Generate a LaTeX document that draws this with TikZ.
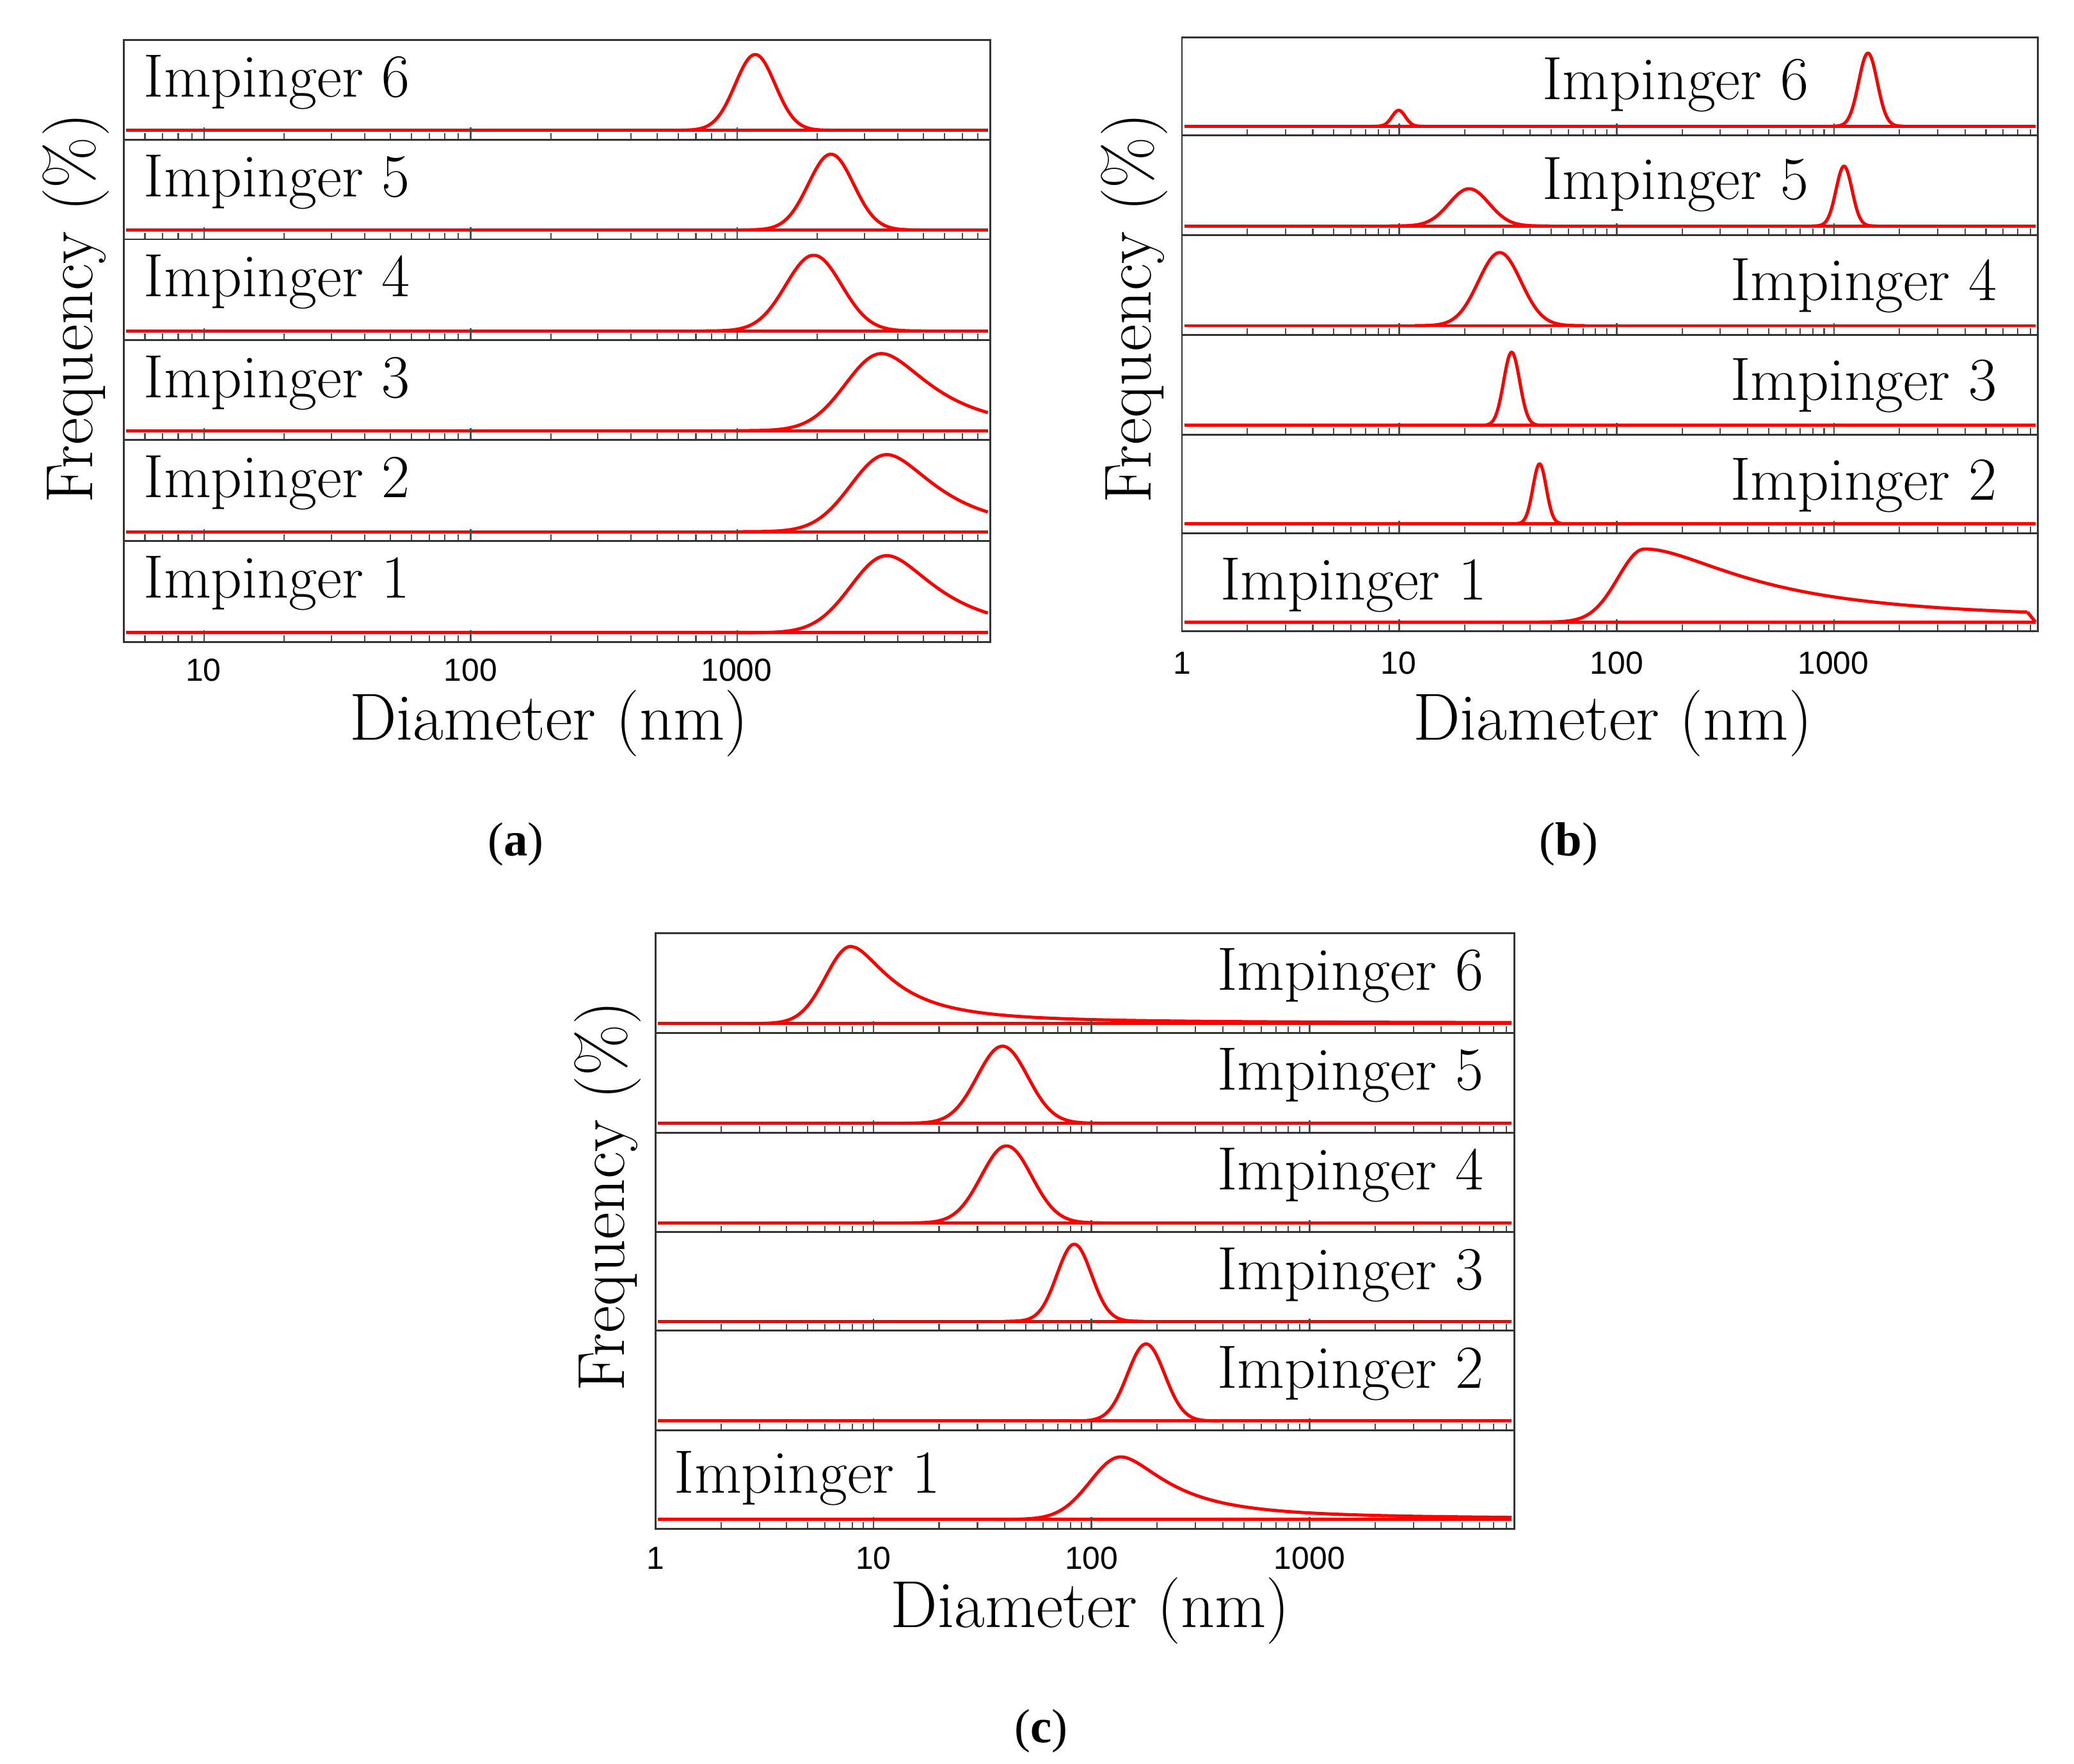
\documentclass[tikz,border=0pt]{standalone}
\usepackage{fontspec}
\newfontfamily\tickfont{Liberation Sans}
\newfontfamily\labfont{Liberation Serif}
\begin{document}
\begin{tikzpicture}[x=1pt,y=-1pt,
  frame/.style={draw=black!80,line width=1.4pt},
  curve/.style={draw=red,line width=2.4pt,line join=round},
  imp/.style={font=\fontsize{46}{52}\selectfont,inner sep=0pt},
  tick/.style={font=\tickfont\fontsize{24}{28}\selectfont,inner sep=0pt},
  axt/.style={font=\fontsize{50}{56}\selectfont,inner sep=0pt},
  plab/.style={font=\labfont\fontsize{36}{42}\selectfont,inner sep=0pt}]
\path[use as bounding box,fill=white] (0,0) rectangle (1560,1327);
\newcommand\mytks[5]{%
 \foreach \d in {0,...,4}{\foreach \m in {1,...,9}{%
  \pgfmathsetmacro\xx{#4+#5*(\d+log10(\m))}%
  \pgfmathparse{and(\xx>#1+2,\xx<#2-2)}%
  \ifnum\pgfmathresult=1
   \ifnum\m=1 \draw[black!70,line width=1.2pt] (\xx,#3) -- ++(0,-9);
   \else \draw[black!70,line width=1pt] (\xx,#3) -- ++(0,-5);\fi
  \fi}}}
\newcommand\gss[4]{\draw[curve] plot[domain={#3-4*#4}:{#3+4*#4},samples=80,smooth] (\x,{#1-#2*exp(-((\x-#3)/#4)^2/2)});}
\newcommand\skw[7]{\draw[curve] plot[domain={#3-4*#4}:#3,samples=60,smooth] (\x,{#1-#2*exp(-((\x-#3)/#4)^2/2)}) -- plot[domain=#3:#7,samples=120,smooth] (\x,{#1-#2*exp(-((\x-#3)/(#5+#6*(\x-#3)))^2/2)});}

%%%%% panel a
\foreach \t/\b in {30/105,105/180,180/256,256/331,331/407,407/483}{
  \draw[curve] (95,\b-7) -- (743,\b-7);
  \mytks{93}{745}{\b}{-47}{200.5}
}
\gss{98}{57}{568}{15}
\gss{173}{57}{625}{17}
\gss{249}{57}{612}{21}
\draw[curve] plot[domain=555:743,samples=100,smooth] (\x,{324-58*exp(-((\x-663)/(27+0.25*max(\x-663,0)))^2/2)});
\draw[curve] plot[domain=555:743,samples=100,smooth] (\x,{400-58*exp(-((\x-667)/(27+0.25*max(\x-667,0)))^2/2)});
\draw[curve] plot[domain=555:743,samples=100,smooth] (\x,{476-58*exp(-((\x-667)/(27+0.25*max(\x-667,0)))^2/2)});
\foreach \t/\b in {30/105,105/180,180/256,256/331,331/407,407/483}{
  \draw[frame] (93,\t) rectangle (745,\b);
}
\foreach \t/\n in {30/6,105/5,180/4,256/3,331/2,407/1}
  \node[imp,anchor=west] (a\n) at (108,\t+32) {Impinger \n};
\node[tick] (a10) at (153,504) {10};
\node[tick] (a100) at (354,504) {100};
\node[tick] (a1000) at (554,504) {1000};
\node[axt] (ad) at (413,544) {Diameter (nm)};
\node[axt,rotate=90] (af) at (57,232) {Frequency (\%)};
\node[plab] (al) at (388,635) {(\textbf{a})};

%%%%% panel b
\foreach \t/\b in {28/102,102/177,177/252,252/327,327/401,401/475}{
  \draw[curve] (891,\b-7) -- (1531,\b-7);
  \mytks{889}{1533}{\b}{889}{163.5}
}
\gss{95}{12}{1052}{5}
\gss{95}{55}{1405}{7}
\gss{170}{28}{1105}{15}
\gss{170}{45}{1387}{6}
\gss{245}{55}{1128}{16}
\gss{320}{55}{1137}{6}
\gss{394}{45}{1158}{5}
\skw{468}{55}{1237}{20}{52}{0.32}{1525}
\draw[curve] (1525,{468-55*exp(-((1525-1237)/(52+0.32*288))^2/2)}) -- (1531,468);
\foreach \t/\b in {28/102,102/177,177/252,252/327,327/401,401/475}{
  \draw[frame] (889,\t) rectangle (1533,\b);
}
\node[imp,anchor=west] (b6) at (1160,64) {Impinger 6};
\node[imp,anchor=west] (b5) at (1160,139) {Impinger 5};
\node[imp,anchor=east] (b4) at (1502,215) {Impinger 4};
\node[imp,anchor=east] (b3) at (1502,290) {Impinger 3};
\node[imp,anchor=east] (b2) at (1502,365) {Impinger 2};
\node[imp,anchor=west] (b1) at (918,440) {Impinger 1};
\node[tick] (b1t) at (889,499) {1};
\node[tick] (b10) at (1052,499) {10};
\node[tick] (b100) at (1216,499) {100};
\node[tick] (b1000) at (1379,499) {1000};
\node[axt] (bd) at (1213,544) {Diameter (nm)};
\node[axt,rotate=90] (bf) at (853,232) {Frequency (\%)};
\node[plab] (bl) at (1180,635) {(\textbf{b})};

%%%%% panel c
\foreach \t/\b in {702/777,777/852,852/927,927/1001,1001/1076,1076/1150}{
  \draw[curve] (495,\b-7) -- (1137,\b-7);
  \mytks{493}{1139}{\b}{493}{164}
}
\skw{770}{58}{640}{19}{20}{0.3}{1137}
\gss{845}{58}{754}{19}
\gss{920}{58}{757}{19}
\gss{994}{58}{808}{13}
\gss{1069}{58}{862}{14}
\skw{1143}{47}{843}{23}{24}{0.3}{1137}
\foreach \t/\b in {702/777,777/852,852/927,927/1001,1001/1076,1076/1150}{
  \draw[frame] (493,\t) rectangle (1139,\b);
}
\foreach \t/\n in {702/6,777/5,852/4,927/3,1001/2}
  \node[imp,anchor=east] (c\n) at (1116,\t+32) {Impinger \n};
\node[imp,anchor=west] (c1) at (507,1112) {Impinger 1};
\node[tick] (c1t) at (493,1172) {1};
\node[tick] (c10) at (657,1172) {10};
\node[tick] (c100) at (821,1172) {100};
\node[tick] (c1000) at (985,1172) {1000};
\node[axt] (cd) at (820,1212) {Diameter (nm)};
\node[axt,rotate=90] (cf) at (457,900) {Frequency (\%)};
\node[plab] (cl) at (783,1302) {(\textbf{c})};
\end{tikzpicture}
\end{document}
